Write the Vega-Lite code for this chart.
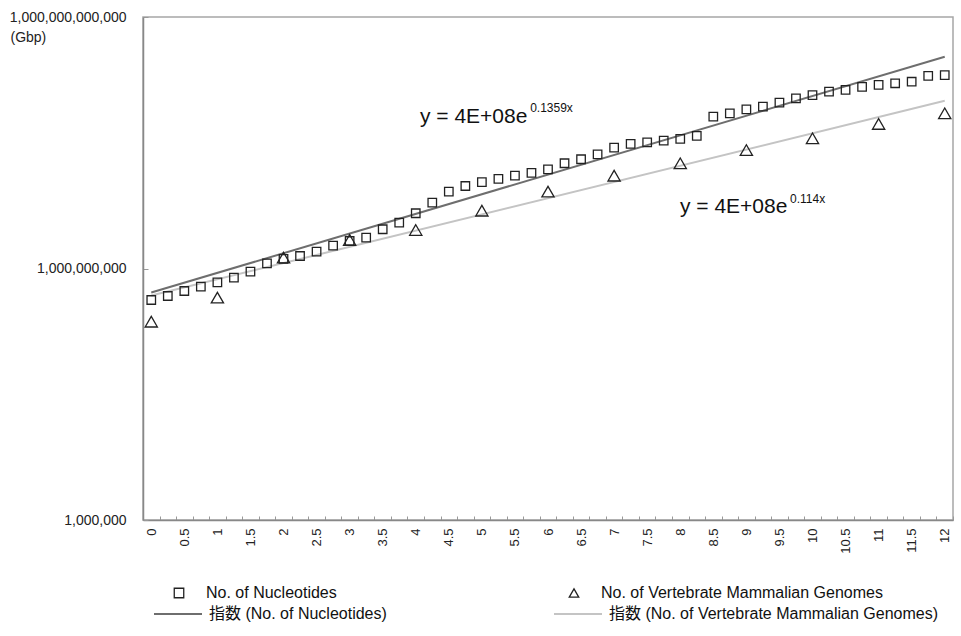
{
  "$schema": "https://vega.github.io/schema/vega-lite/v6.json",
  "width": 810,
  "height": 503,
  "autosize": {"type": "none"},
  "padding": {"left": 143, "top": 17, "right": 8, "bottom": 116},
  "background": "white",
  "config": {
    "view": {"stroke": "#a6a6a6", "strokeWidth": 1.5},
    "font": "Liberation Sans, 'Noto Sans CJK JP', sans-serif"
  },
  "datasets": {
    "points": [
      {"x": 0, "v": 4.21e8, "series": "No. of Nucleotides"},
      {"x": 0.25, "v": 4.70e8, "series": "No. of Nucleotides"},
      {"x": 0.5, "v": 5.39e8, "series": "No. of Nucleotides"},
      {"x": 0.75, "v": 6.07e8, "series": "No. of Nucleotides"},
      {"x": 1, "v": 6.84e8, "series": "No. of Nucleotides"},
      {"x": 1.25, "v": 7.77e8, "series": "No. of Nucleotides"},
      {"x": 1.5, "v": 9.16e8, "series": "No. of Nucleotides"},
      {"x": 1.75, "v": 1.153e9, "series": "No. of Nucleotides"},
      {"x": 2, "v": 1.30e9, "series": "No. of Nucleotides"},
      {"x": 2.25, "v": 1.41e9, "series": "No. of Nucleotides"},
      {"x": 2.5, "v": 1.59e9, "series": "No. of Nucleotides"},
      {"x": 2.75, "v": 1.87e9, "series": "No. of Nucleotides"},
      {"x": 3, "v": 2.13e9, "series": "No. of Nucleotides"},
      {"x": 3.25, "v": 2.33e9, "series": "No. of Nucleotides"},
      {"x": 3.5, "v": 2.94e9, "series": "No. of Nucleotides"},
      {"x": 3.75, "v": 3.52e9, "series": "No. of Nucleotides"},
      {"x": 4, "v": 4.56e9, "series": "No. of Nucleotides"},
      {"x": 4.25, "v": 6.10e9, "series": "No. of Nucleotides"},
      {"x": 4.5, "v": 8.25e9, "series": "No. of Nucleotides"},
      {"x": 4.75, "v": 9.64e9, "series": "No. of Nucleotides"},
      {"x": 5, "v": 1.07e10, "series": "No. of Nucleotides"},
      {"x": 5.25, "v": 1.17e10, "series": "No. of Nucleotides"},
      {"x": 5.5, "v": 1.28e10, "series": "No. of Nucleotides"},
      {"x": 5.75, "v": 1.38e10, "series": "No. of Nucleotides"},
      {"x": 6, "v": 1.52e10, "series": "No. of Nucleotides"},
      {"x": 6.25, "v": 1.80e10, "series": "No. of Nucleotides"},
      {"x": 6.5, "v": 2.01e10, "series": "No. of Nucleotides"},
      {"x": 6.75, "v": 2.30e10, "series": "No. of Nucleotides"},
      {"x": 7, "v": 2.76e10, "series": "No. of Nucleotides"},
      {"x": 7.25, "v": 3.06e10, "series": "No. of Nucleotides"},
      {"x": 7.5, "v": 3.20e10, "series": "No. of Nucleotides"},
      {"x": 7.75, "v": 3.35e10, "series": "No. of Nucleotides"},
      {"x": 8, "v": 3.51e10, "series": "No. of Nucleotides"},
      {"x": 8.25, "v": 3.81e10, "series": "No. of Nucleotides"},
      {"x": 8.5, "v": 6.47e10, "series": "No. of Nucleotides"},
      {"x": 8.75, "v": 7.10e10, "series": "No. of Nucleotides"},
      {"x": 9, "v": 7.92e10, "series": "No. of Nucleotides"},
      {"x": 9.25, "v": 8.51e10, "series": "No. of Nucleotides"},
      {"x": 9.5, "v": 9.51e10, "series": "No. of Nucleotides"},
      {"x": 9.75, "v": 1.07e11, "series": "No. of Nucleotides"},
      {"x": 10, "v": 1.17e11, "series": "No. of Nucleotides"},
      {"x": 10.25, "v": 1.29e11, "series": "No. of Nucleotides"},
      {"x": 10.5, "v": 1.35e11, "series": "No. of Nucleotides"},
      {"x": 10.75, "v": 1.47e11, "series": "No. of Nucleotides"},
      {"x": 11, "v": 1.55e11, "series": "No. of Nucleotides"},
      {"x": 11.25, "v": 1.62e11, "series": "No. of Nucleotides"},
      {"x": 11.5, "v": 1.69e11, "series": "No. of Nucleotides"},
      {"x": 11.75, "v": 1.98e11, "series": "No. of Nucleotides"},
      {"x": 12, "v": 2.03e11, "series": "No. of Nucleotides"},
      {"x": 0, "v": 2.32e8, "series": "No. of Vertebrate Mammalian Genomes"},
      {"x": 1, "v": 4.49e8, "series": "No. of Vertebrate Mammalian Genomes"},
      {"x": 2, "v": 1.35e9, "series": "No. of Vertebrate Mammalian Genomes"},
      {"x": 3, "v": 2.19e9, "series": "No. of Vertebrate Mammalian Genomes"},
      {"x": 4, "v": 2.88e9, "series": "No. of Vertebrate Mammalian Genomes"},
      {"x": 5, "v": 4.89e9, "series": "No. of Vertebrate Mammalian Genomes"},
      {"x": 6, "v": 8.25e9, "series": "No. of Vertebrate Mammalian Genomes"},
      {"x": 7, "v": 1.28e10, "series": "No. of Vertebrate Mammalian Genomes"},
      {"x": 8, "v": 1.80e10, "series": "No. of Vertebrate Mammalian Genomes"},
      {"x": 9, "v": 2.59e10, "series": "No. of Vertebrate Mammalian Genomes"},
      {"x": 10, "v": 3.57e10, "series": "No. of Vertebrate Mammalian Genomes"},
      {"x": 11, "v": 5.30e10, "series": "No. of Vertebrate Mammalian Genomes"},
      {"x": 12, "v": 7.10e10, "series": "No. of Vertebrate Mammalian Genomes"}
    ],
    "trends": [
      {"x": 0, "v": 5.17e8, "trend": "指数 (No. of Nucleotides)"},
      {"x": 12, "v": 3.36e11, "trend": "指数 (No. of Nucleotides)"},
      {"x": 0, "v": 4.76e8, "trend": "指数 (No. of Vertebrate Mammalian Genomes)"},
      {"x": 12, "v": 1.00e11, "trend": "指数 (No. of Vertebrate Mammalian Genomes)"}
    ],
    "notes": [
      {"x": 4.064, "v": 5.40e10, "t": "y = 4E+08e", "kind": "main"},
      {"x": 5.73, "v": 7.36e10, "t": "0.1359x", "kind": "sup"},
      {"x": 7.996, "v": 4.59e9, "t": "y = 4E+08e", "kind": "main"},
      {"x": 9.66, "v": 6.04e9, "t": "0.114x", "kind": "sup"}
    ]
  },
  "encoding": {
    "x": {
      "field": "x",
      "type": "quantitative",
      "scale": {"domain": [-0.125, 12.125], "nice": false, "zero": false},
      "axis": {
        "title": null,
        "grid": false,
        "values": [0, 0.25, 0.5, 0.75, 1, 1.25, 1.5, 1.75, 2, 2.25, 2.5, 2.75, 3, 3.25, 3.5, 3.75, 4, 4.25, 4.5, 4.75, 5, 5.25, 5.5, 5.75, 6, 6.25, 6.5, 6.75, 7, 7.25, 7.5, 7.75, 8, 8.25, 8.5, 8.75, 9, 9.25, 9.5, 9.75, 10, 10.25, 10.5, 10.75, 11, 11.25, 11.5, 11.75, 12],
        "labelExpr": "datum.value % 0.5 === 0 ? format(datum.value, '~g') : ''",
        "labelAngle": -90,
        "labelFontSize": 13,
        "labelColor": "#222",
        "labelFlush": false,
        "labelOverlap": false,
        "tickOffset": 8.27,
        "labelOffset": -8.27,
        "tickSize": -4,
        "tickColor": "#999",
        "domainColor": "#888",
        "domainWidth": 1.5,
        "labelPadding": 12
      }
    },
    "y": {
      "field": "v",
      "type": "quantitative",
      "scale": {"type": "log", "domain": [1e6, 1e12], "nice": false},
      "axis": {
        "title": "(Gbp)",
        "titleAngle": 0,
        "titleAlign": "left",
        "titleBaseline": "middle",
        "titleX": -133,
        "titleY": 20,
        "titleFontSize": 14,
        "titleFontWeight": "normal",
        "titleColor": "#222",
        "values": [1e6, 1e9, 1e12],
        "format": ",.0f",
        "labelFontSize": 14,
        "labelColor": "#222",
        "labelFlush": false,
        "labelPadding": 22,
        "tickSize": -5,
        "tickColor": "#999",
        "domainColor": "#888",
        "domainWidth": 1.5,
        "grid": false
      }
    }
  },
  "layer": [
    {
      "data": {"name": "trends"},
      "mark": {"type": "line", "strokeWidth": 2},
      "encoding": {
        "detail": {"field": "trend"},
        "stroke": {
          "field": "trend",
          "type": "nominal",
          "scale": {"domain": ["指数 (No. of Nucleotides)", "指数 (No. of Vertebrate Mammalian Genomes)"], "range": ["#6e6e6e", "#c4c4c4"]},
          "legend": {
            "orient": "none", "legendX": 10, "legendY": 572,
            "direction": "horizontal", "columns": 2, "columnPadding": 163,
            "title": null, "symbolType": "stroke", "symbolSize": 2304, "symbolStrokeWidth": 2,
            "labelFontSize": 16, "labelOffset": 6, "labelLimit": 600, "labelColor": "#111"
          }
        }
      }
    },
    {
      "data": {"name": "points"},
      "transform": [{"filter": "datum.series === 'No. of Nucleotides'"}],
      "mark": {"type": "point", "filled": false, "color": "#222", "strokeWidth": 1.3, "opacity": 1, "size": 72},
      "encoding": {
        "shape": {
          "field": "series",
          "type": "nominal",
          "scale": {"domain": ["No. of Nucleotides", "No. of Vertebrate Mammalian Genomes"], "range": ["square", "triangle-up"]},
          "legend": {
            "orient": "none", "legendX": 28, "legendY": 568,
            "direction": "horizontal", "columns": 2, "columnPadding": 229,
            "title": null, "symbolSize": 90, "symbolStrokeColor": "#222", "symbolFillColor": "transparent", "symbolStrokeWidth": 1.3,
            "labelFontSize": 16, "labelOffset": 19, "labelLimit": 600, "labelColor": "#111"
          }
        }
      }
    },
    {
      "data": {"name": "points"},
      "transform": [{"filter": "datum.series === 'No. of Vertebrate Mammalian Genomes'"}],
      "mark": {"type": "point", "filled": false, "color": "#222", "strokeWidth": 1.3, "opacity": 1, "size": 150},
      "encoding": {
        "shape": {"field": "series", "type": "nominal"}
      }
    },
    {
      "data": {"name": "notes"},
      "transform": [{"filter": "datum.kind === 'main'"}],
      "mark": {"type": "text", "align": "left", "baseline": "alphabetic", "fontSize": 21, "color": "#111"},
      "encoding": {"text": {"field": "t"}}
    },
    {
      "data": {"name": "notes"},
      "transform": [{"filter": "datum.kind === 'sup'"}],
      "mark": {"type": "text", "align": "left", "baseline": "alphabetic", "fontSize": 12, "color": "#111"},
      "encoding": {"text": {"field": "t"}}
    }
  ]
}
